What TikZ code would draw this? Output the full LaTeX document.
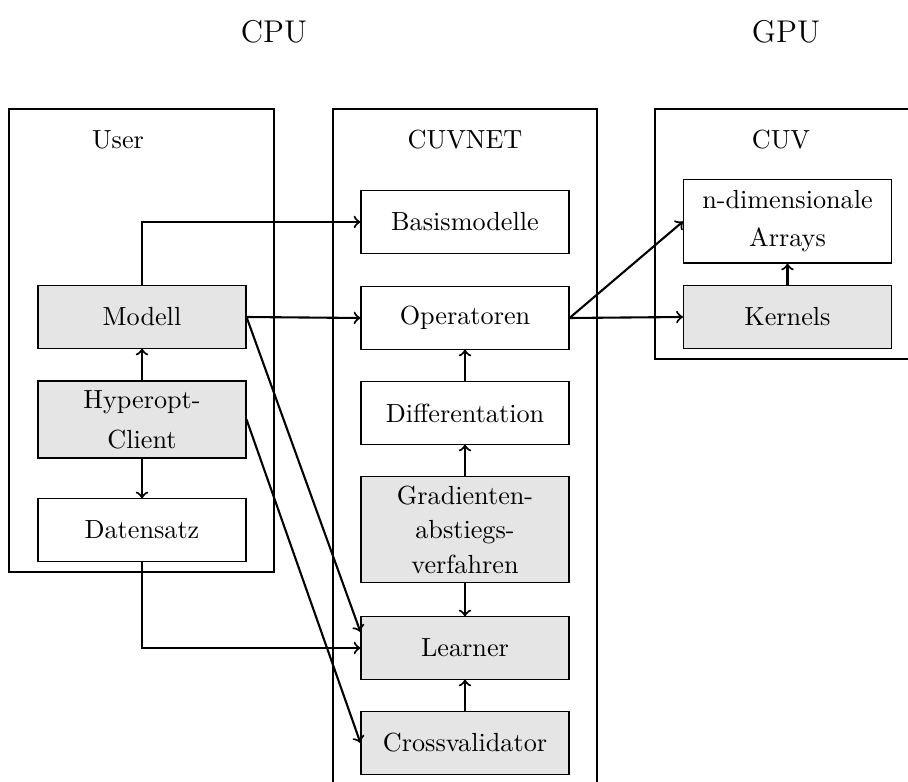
\documentclass[tikz,border=0pt]{standalone}
\usetikzlibrary{arrows}
\begin{document}
\begin{tikzpicture}[x=0.3817pt,y=-0.3817pt,
  box/.style={draw=black,line width=0.4pt,minimum width=79.4pt,minimum height=23.7pt,align=center,inner sep=2pt},
  hl/.style={box,fill=gray!20},
  link/.style={->,thick},
  frame/.style={draw=black,line width=0.4pt},
  title/.style={anchor=base}]
\clip (0,0) rectangle (908,782);

% hardware headings
\node[title,font=\large] (cpu) at (274,43) {CPU};
\node[title,font=\large] (gpu) at (786,43) {GPU};

% software layers
\draw[frame] (9,109) rectangle (274,572);
\draw[frame] (333,109) rectangle (597,820);
\draw[frame] (655,109) rectangle (930,359);
\node[title] (user) at (118,149) {User};
\node[title] (cuvnet) at (465,149) {CUVNET};
\node[title] (cuv) at (781,149) {CUV};

% User components
\node[hl] (modell) at (142,317) {Modell};
\node[hl,minimum height=29.4pt] (hyper) at (142,419.5) {Hyperopt-\\[3.3pt]Client};
\node[box] (daten) at (142,530) {Datensatz};

% CUVNET components
\node[box] (bas) at (465,222) {Basismodelle};
\node[box] (op) at (465,318) {Operatoren};
\node[box] (diff) at (465,413) {Differentation};
\node[hl,minimum height=40.8pt] (grad) at (465,529.5) {Gradienten-\\[1.2pt]abstiegs-\\[1.2pt]verfahren};
\node[hl] (learn) at (465,648) {Learner};
\node[hl] (cross) at (465,743) {Crossvalidator};

% CUV components
\node[box,minimum height=31.7pt] (arr) at (787.5,221.5) {n-dimensionale\\[2.5pt]Arrays};
\node[hl] (kern) at (787.5,317) {Kernels};

% dependencies
\draw[link] (modell.north) |- (bas.west);
\draw[link] (modell.east) -- (op.west);
\draw[link] (modell.east) -- ([yshift=6.1pt]learn.west);
\draw[link] (hyper.east) -- (cross.west);
\draw[link] (daten.south) |- (learn.west);
\draw[link] (hyper) -- (modell);
\draw[link] (hyper) -- (daten);
\draw[link] (diff) -- (op);
\draw[link] (grad) -- (diff);
\draw[link] (grad) -- (learn);
\draw[link] (cross) -- (learn);
\draw[link] (op.east) -- (kern.west);
\draw[link] (op.east) -- (arr.west);
\draw[link] (kern) -- (arr);
\end{tikzpicture}
\end{document}
